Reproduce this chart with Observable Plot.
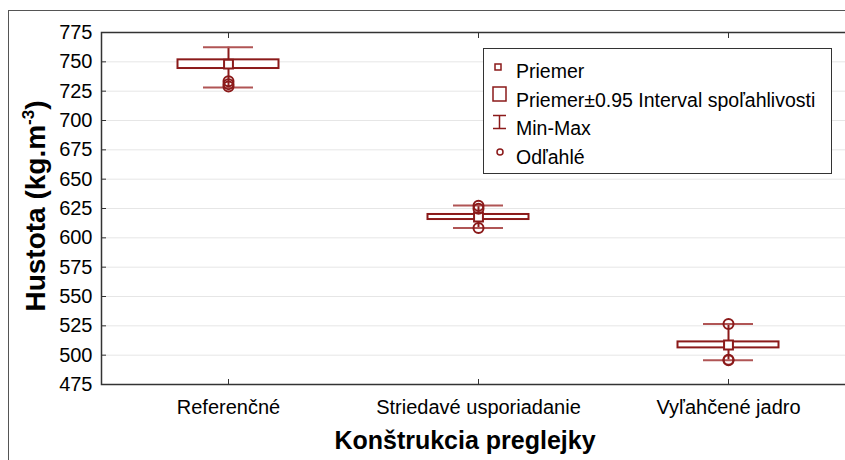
<!DOCTYPE html>
<html><head><meta charset="utf-8">
<script src="https://cdn.jsdelivr.net/npm/d3@7"></script>
<script src="https://cdn.jsdelivr.net/npm/@observablehq/plot@0.6"></script>
<style>
body{margin:0;width:845px;height:460px;overflow:hidden;position:relative;background:#fff;font-family:"Liberation Sans",Arial,sans-serif;color:#000;}
#border{position:absolute;left:8px;top:10px;width:900px;height:500px;border:1px solid #555;}
#chart{position:absolute;left:0;top:0;width:870px;height:460px;}
#chart svg{max-width:none !important;}
#ytitle{position:absolute;left:35px;top:206px;font-weight:bold;font-size:28px;white-space:nowrap;transform:translate(-50%,-50%) rotate(-90deg);line-height:1;}
#ytitle sup{font-size:17px;vertical-align:11px;}
#xtitle{position:absolute;left:465px;top:440px;font-weight:bold;font-size:25px;white-space:nowrap;transform:translate(-50%,-50%);line-height:1;}
#legend{position:absolute;left:483px;top:48px;width:347px;height:124px;border:1px solid #333;background:#fff;}
.row{position:absolute;left:32px;font-size:19.5px;line-height:20px;white-space:nowrap;}
.sym{position:absolute;}
</style>
</head><body>
<div id="border"></div>
<div id="chart"></div>
<div id="ytitle">Hustota (kg.m<sup>-3</sup>)</div>
<div id="xtitle">Konštrukcia preglejky</div>
<div id="legend"></div>
<script>
const categories = ["Referenčné", "Striedavé usporiadanie", "Vyľahčené jadro"];
const means  = [748.0, 617.8, 508.7];
const ciLow  = [744.3, 615.6, 506.2];
const ciHigh = [751.7, 619.9, 511.3];
const mins   = [728.2, 608.3, 495.7];
const maxs   = [762.5, 627.6, 526.6];
const outlierCategory = ["Referenčné", "Referenčné", "Referenčné", "Striedavé usporiadanie", "Striedavé usporiadanie", "Striedavé usporiadanie", "Vyľahčené jadro", "Vyľahčené jadro", "Vyľahčené jadro"];
const outlierValue    = [733.5, 731.0, 729.0, 627.4, 624.8, 608.3, 526.6, 496.2, 495.6];
const yTicks = [475, 500, 525, 550, 575, 600, 625, 650, 675, 700, 725, 750, 775];
const legendLabels = ["Priemer", "Priemer±0.95 Interval spoľahlivosti", "Min-Max", "Odľahlé"];

const RED = "#8b1a1a";
const CAP = "#b05555";

const data = categories.map((c, i) => ({cat: c, mean: means[i], lo: ciLow[i], hi: ciHigh[i], min: mins[i], max: maxs[i]}));
const outliers = outlierValue.map((v, i) => ({cat: outlierCategory[i], v}));
const grid = yTicks.slice(1, -1);

const chart = Plot.plot({
  width: 870, height: 460,
  marginLeft: 101, marginRight: 17, marginTop: 32, marginBottom: 76,
  style: {fontFamily: "'Liberation Sans', Arial, sans-serif", fontSize: "20px", color: "#000", background: "transparent", overflow: "visible", maxWidth: "none"},
  x: {type: "band", domain: categories, range: [103, 853], padding: 0},
  y: {domain: [475, 775]},
  marks: [
    Plot.ruleY(grid, {y: d => d, stroke: "#e6e6e6", strokeWidth: 1}),
    Plot.ruleX(data, {x: "cat", y1: "min", y2: "max", stroke: RED, strokeWidth: 2}),
    Plot.tickY(data, {x: "cat", y: "max", stroke: CAP, strokeWidth: 2, insetLeft: 100, insetRight: 100}),
    Plot.tickY(data, {x: "cat", y: "min", stroke: CAP, strokeWidth: 2, insetLeft: 100, insetRight: 100}),
    Plot.barY(data, {x: "cat", y1: "lo", y2: "hi", fill: "white", stroke: RED, strokeWidth: 2, insetLeft: 74.5, insetRight: 74.5}),
    Plot.dot(data, {x: "cat", y: "mean", symbol: "square", r: 5, fill: "white", stroke: RED, strokeWidth: 2}),
    Plot.dot(outliers, {x: "cat", y: "v", r: 5, fill: "none", stroke: RED, strokeWidth: 2}),
    Plot.frame({stroke: "#333", strokeWidth: 1.5}),
    Plot.axisY(yTicks, {tickSize: -5, tickPadding: 14, label: null, stroke: "#333"}),
    Plot.axisX({anchor: "bottom", tickSize: -5, tickPadding: 20, label: null, stroke: "#333"}),
    Plot.axisX({anchor: "top", tickSize: -5, tickFormat: () => "", label: null, stroke: "#333"})
  ]
});
document.getElementById("chart").appendChild(chart);

// legend
const leg = document.getElementById("legend");
const symbols = [
  `<svg width="12" height="12"><rect x="3" y="3" width="6" height="6" fill="white" stroke="${RED}" stroke-width="1.5"/></svg>`,
  `<svg width="18" height="18"><rect x="2" y="2" width="13" height="14" fill="white" stroke="${RED}" stroke-width="1.5"/></svg>`,
  `<svg width="18" height="18"><path d="M2,2.5H15M8.5,2.5V15.5M2,15.5H15" fill="none" stroke="${RED}" stroke-width="1.5"/></svg>`,
  `<svg width="12" height="12"><circle cx="6" cy="6" r="3" fill="none" stroke="${RED}" stroke-width="1.5"/></svg>`
];
const symPos = [[8, 10], [7, 36], [7, 64], [10, 95]];
legendLabels.forEach((t, i) => {
  const s = document.createElement("div");
  s.className = "sym";
  s.style.left = symPos[i][0] + "px";
  s.style.top = symPos[i][1] + "px";
  s.innerHTML = symbols[i];
  leg.appendChild(s);
  const r = document.createElement("div");
  r.className = "row";
  r.style.top = (71 + 28.7 * i - 10 - 49) + "px";
  r.textContent = t;
  leg.appendChild(r);
});
</script>
</body></html>
